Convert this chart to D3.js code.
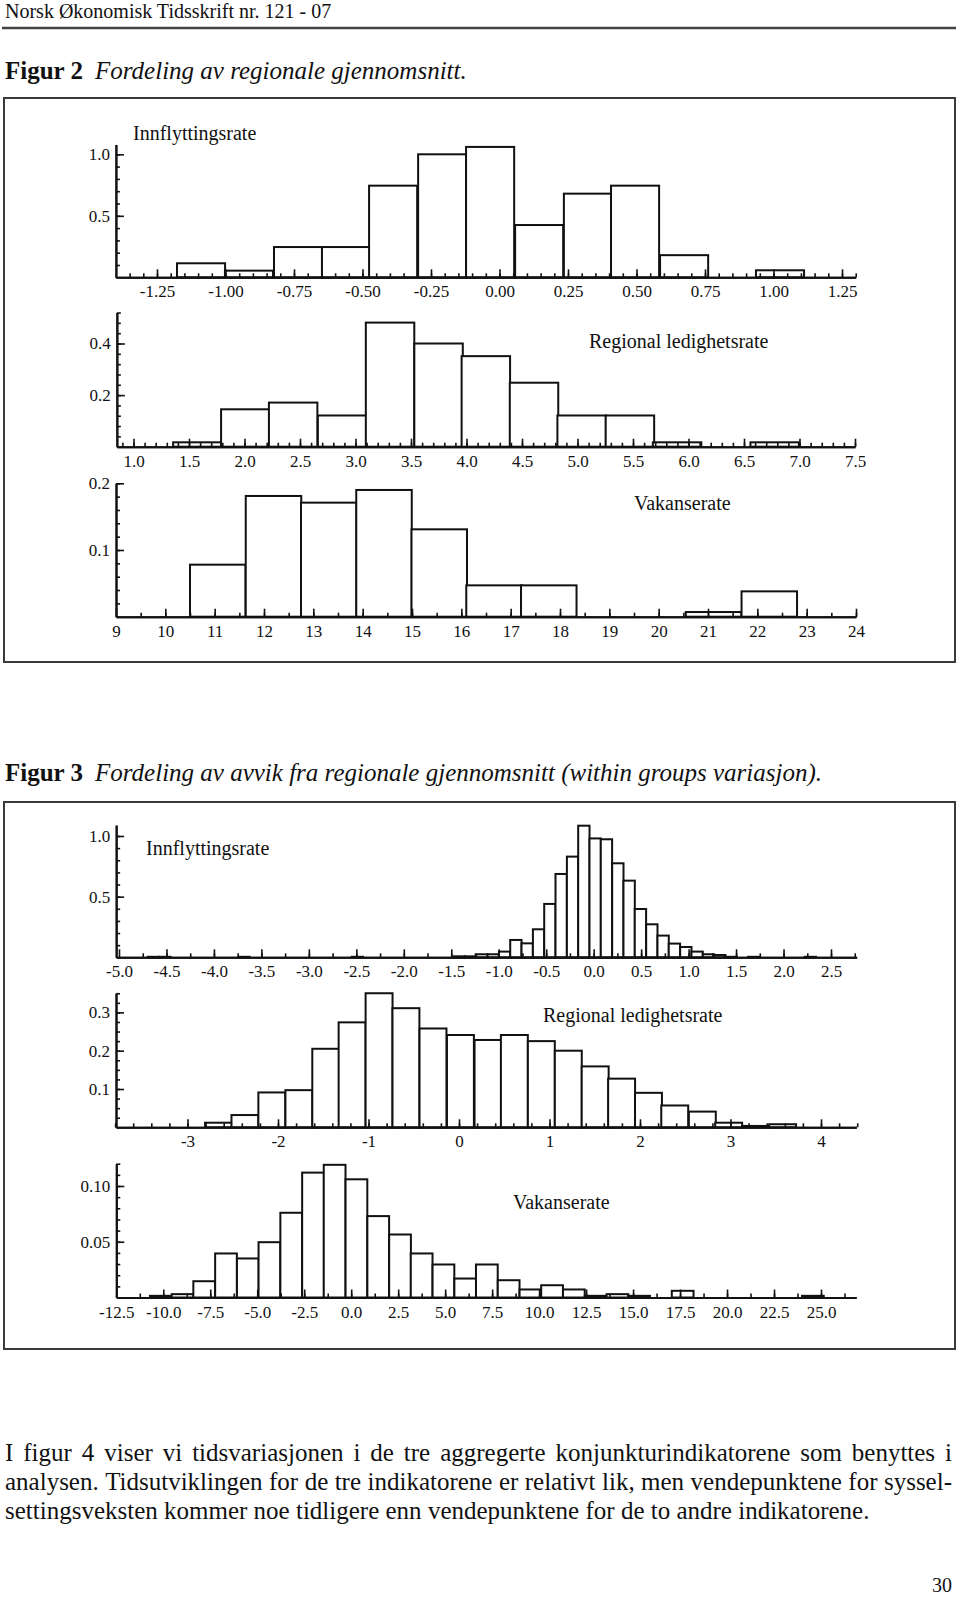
<!DOCTYPE html>
<html>
<head>
<meta charset="utf-8">
<script src="https://cdn.jsdelivr.net/npm/d3@7"></script>
<style>
  body { margin: 0; background: #fff; }
  svg text { font-family: "Liberation Serif", "Times New Roman", serif; fill: #111; }
</style>
</head>
<body>
<div id="page"></div>
<script>

  // Figur 2 - regional averages

  var innLo2 = [-1.177, -1.002, -0.823, -0.648, -0.476, -0.297, -0.122, 0.057, 0.235, 0.407, 0.586, 0.765, 0.936];
  var innFreq2 = [0.114, 0.054, 0.246, 0.246, 0.745, 1.0, 1.06, 0.425, 0.68, 0.745, 0.18, 0, 0.057];
  var innW2 = 0.1755;
  var innX2 = ["-1.25", "-1.00", "-0.75", "-0.50", "-0.25", "0.00", "0.25", "0.50", "0.75", "1.00", "1.25"];
  var innY2 = ["0.5", "1.0"];

  var ledLo2 = [1.357, 1.789, 2.220, 2.661, 3.093, 3.530, 3.956, 4.390, 4.819, 5.254, 5.679, 6.120, 6.558];
  var ledFreq2 = [0.017, 0.145, 0.171, 0.121, 0.481, 0.40, 0.351, 0.248, 0.121, 0.121, 0.017, 0, 0.017];
  var ledW2 = 0.4366;
  var ledX2 = ["1.0", "1.5", "2.0", "2.5", "3.0", "3.5", "4.0", "4.5", "5.0", "5.5", "6.0", "6.5", "7.0", "7.5"];
  var ledY2 = ["0.2", "0.4"];

  var vakLo2 = [10.50, 11.63, 12.75, 13.87, 14.99, 16.10, 17.21, 18.34, 19.45, 20.55, 21.68];
  var vakFreq2 = [0.078, 0.181, 0.171, 0.190, 0.131, 0.047, 0.047, 0, 0, 0.007, 0.038];
  var vakW2 = 1.125;
  var vakX2 = ["9", "10", "11", "12", "13", "14", "15", "16", "17", "18", "19", "20", "21", "22", "23", "24"];
  var vakY2 = ["0.1", "0.2"];

  // Figur 3 - deviations from regional averages

  var innLo3 = [-4.697, -4.577, -3.742, -2.549, -1.476, -1.357, -1.237, -1.118, -0.998, -0.879, -0.760, -0.640,
                -0.521, -0.402, -0.282, -0.163, -0.044, 0.075, 0.195, 0.314, 0.433, 0.553, 0.672, 0.791,
                0.911, 1.030, 1.149, 1.269, 1.388, 1.626, 2.223];
  var innFreq3 = [0.004, 0.004, 0.004, 0.004, 0.008, 0.008, 0.025, 0.025, 0.047, 0.143, 0.115, 0.231,
                  0.44, 0.687, 0.83, 1.085, 0.98, 0.973, 0.775, 0.632, 0.398, 0.272, 0.179, 0.113,
                  0.085, 0.047, 0.025, 0.019, 0.004, 0.004, 0.004];
  var innW3 = 0.1193;
  var innX3 = ["-5.0", "-4.5", "-4.0", "-3.5", "-3.0", "-2.5", "-2.0", "-1.5", "-1.0", "-0.5", "0.0", "0.5", "1.0", "1.5", "2.0", "2.5"];
  var innY3 = ["0.5", "1.0"];

  var ledLo3 = [-2.806, -2.514, -2.217, -1.918, -1.621, -1.330, -1.032, -0.735, -0.436, -0.133, 0.172,
                0.463, 0.761, 1.059, 1.356, 1.648, 1.945, 2.235, 2.540, 2.831, 3.129, 3.427];
  var ledFreq3 = [0.012, 0.032, 0.091, 0.097, 0.205, 0.274, 0.35, 0.311, 0.258, 0.241, 0.228,
                  0.241, 0.225, 0.2, 0.159, 0.127, 0.09, 0.057, 0.041, 0.012, 0.0035, 0.008];
  var ledW3 = 0.2975;
  var ledX3 = ["-3", "-2", "-1", "0", "1", "2", "3", "4"];
  var ledY3 = ["0.1", "0.2", "0.3"];

  var vakLo3 = [-10.71, -9.55, -8.40, -7.24, -6.08, -4.93, -3.77, -2.61, -1.46, -0.30, 0.86, 2.02, 3.17,
                4.33, 5.49, 6.64, 7.80, 8.96, 10.11, 11.27, 12.43, 13.59, 14.74, 17.06, 23.99];
  var vakFreq3 = [0.0015, 0.003, 0.0146, 0.0395, 0.035, 0.0496, 0.076, 0.112, 0.119, 0.106, 0.073, 0.0565, 0.0395,
                  0.0296, 0.017, 0.0296, 0.0155, 0.0072, 0.011, 0.0072, 0.0015, 0.003, 0.0015, 0.006, 0.0015];
  var vakW3 = 1.157;
  var vakX3 = ["-12.5", "-10.0", "-7.5", "-5.0", "-2.5", "0.0", "2.5", "5.0", "7.5", "10.0", "12.5", "15.0", "17.5", "20.0", "22.5", "25.0"];
  var vakY3 = ["0.05", "0.10"];

  var svg = d3.select("#page").append("svg")
      .attr("width", 960)
      .attr("height", 1597);

  // Page furniture

  svg.append("text").attr("x", 5).attr("y", 18).attr("font-size", 20)
      .text("Norsk Økonomisk Tidsskrift nr. 121 - 07");
  svg.append("line").attr("x1", 2).attr("x2", 956).attr("y1", 28).attr("y2", 28)
      .attr("stroke", "#444").attr("stroke-width", 2.5);

  function caption(y, num, rest) {
    var t = svg.append("text").attr("x", 5).attr("y", y).attr("font-size", 25);
    t.append("tspan").attr("font-weight", "bold").text("Figur " + num);
    t.append("tspan").attr("dx", 12).attr("font-style", "italic").text(rest);
  }
  caption(79, "2", "Fordeling av regionale gjennomsnitt.");
  caption(781, "3", "Fordeling av avvik fra regionale gjennomsnitt (within groups variasjon).");

  svg.append("rect").attr("x", 4).attr("y", 98).attr("width", 951).attr("height", 564)
      .attr("fill", "none").attr("stroke", "#3a3a3a").attr("stroke-width", 2);
  svg.append("rect").attr("x", 4).attr("y", 802).attr("width", 951).attr("height", 547)
      .attr("fill", "none").attr("stroke", "#3a3a3a").attr("stroke-width", 2);

  // Histogram panel

  function panel(c) {
    var x = d3.scaleLinear().domain(c.xRef).range(c.xPx);
    var y = d3.scaleLinear().domain([0, c.yRef]).range([c.base, c.yRefPx]);
    var g = svg.append("g");

    var bins = c.lo.map(function(d, i) { return {lo: d, f: c.freq[i]}; })
        .filter(function(d) { return d.f > 0; });

    g.selectAll(".bar")
        .data(bins)
        .enter().append("rect")
        .attr("class", "bar")
        .attr("x", function(d) { return x(d.lo); })
        .attr("width", function(d) { return x(d.lo + c.w) - x(d.lo); })
        .attr("y", function(d) { return y(d.f); })
        .attr("height", function(d) { return c.base - y(d.f); })
        .attr("fill", "#fff")
        .attr("stroke", "#111")
        .attr("stroke-width", 2);

    var xl = x.copy().domain(c.xLine).range(c.xLine.map(x));
    var yl = y.copy().domain([0, c.yTop]).range([c.base, y(c.yTop)]);

    var xMinor = d3.range(c.xMinor[0], c.xMinor[1] + 1e-9, c.xMinor[2]);
    var yMinor = d3.range(c.yMinor, c.yTop + 1e-9, c.yMinor);

    g.append("g")
        .attr("transform", `translate(0, ${c.base})`)
        .call(d3.axisBottom(xl).tickValues(xMinor).tickSize(-4).tickSizeOuter(0).tickFormat(""));
    g.append("g")
        .attr("transform", `translate(0, ${c.base})`)
        .call(d3.axisBottom(xl).tickValues(c.xLab.map(Number)).tickSize(-8).tickSizeOuter(0)
          .tickPadding(8).tickFormat(function(d, i) { return c.xLab[i]; }));

    g.append("g")
        .attr("transform", `translate(${xl.range()[0]}, 0)`)
        .call(d3.axisLeft(yl).tickValues(yMinor).tickSize(-4).tickSizeOuter(0).tickFormat(""));
    g.append("g")
        .attr("transform", `translate(${xl.range()[0]}, 0)`)
        .call(d3.axisLeft(yl).tickValues(c.yLab.map(Number)).tickSize(-8).tickSizeOuter(0)
          .tickPadding(6).tickFormat(function(d, i) { return c.yLab[i]; }));

    g.selectAll(".domain").attr("stroke", "#111").attr("stroke-width", 2);
    g.selectAll(".tick line").attr("stroke", "#111").attr("stroke-width", 1.6);
    g.selectAll(".tick text")
        .attr("font-size", 17)
        .attr("font-family", "Liberation Serif, serif")
        .attr("fill", "#111");

    g.append("text")
        .attr("x", c.labX)
        .attr("y", c.labY)
        .attr("font-size", 20)
        .text(c.label);
  }

  panel({lo: innLo2, freq: innFreq2, w: innW2, xRef: [-1.25, 1.25], xPx: [157, 842], xLine: [-1.40, 1.30],
         base: 277.3, yRef: 1.0, yRefPx: 154.3, yTop: 1.08, xMinor: [-1.35, 1.30, 0.05], yMinor: 0.1,
         xLab: innX2, yLab: innY2, label: "Innflyttingsrate", labX: 133, labY: 140});

  panel({lo: ledLo2, freq: ledFreq2, w: ledW2, xRef: [1.0, 7.5], xPx: [133.5, 855], xLine: [0.85, 7.5],
         base: 446.7, yRef: 0.4, yRefPx: 343.5, yTop: 0.52, xMinor: [0.9, 7.5, 0.1], yMinor: 0.04,
         xLab: ledX2, yLab: ledY2, label: "Regional ledighetsrate", labX: 589, labY: 348});

  panel({lo: vakLo2, freq: vakFreq2, w: vakW2, xRef: [9, 24], xPx: [116, 856], xLine: [9, 24],
         base: 616.7, yRef: 0.2, yRefPx: 483.3, yTop: 0.2, xMinor: [9.5, 24, 0.5], yMinor: 0.02,
         xLab: vakX2, yLab: vakY2, label: "Vakanserate", labX: 634, labY: 510});

  panel({lo: innLo3, freq: innFreq3, w: innW3, xRef: [-5, 2.5], xPx: [119, 831], xLine: [-5.03, 2.77],
         base: 957.3, yRef: 1.0, yRefPx: 836, yTop: 1.09, xMinor: [-4.75, 2.75, 0.25], yMinor: 0.1,
         xLab: innX3, yLab: innY3, label: "Innflyttingsrate", labX: 146, labY: 855});

  panel({lo: ledLo3, freq: ledFreq3, w: ledW3, xRef: [-3, 4], xPx: [187.5, 821], xLine: [-3.79, 4.39],
         base: 1127.3, yRef: 0.3, yRefPx: 1012.4, yTop: 0.35, xMinor: [-3.8, 4.4, 0.2], yMinor: 0.025,
         xLab: ledX3, yLab: ledY3, label: "Regional ledighetsrate", labX: 543, labY: 1022});

  panel({lo: vakLo3, freq: vakFreq3, w: vakW3, xRef: [-12.5, 25], xPx: [116.3, 821], xLine: [-12.5, 26.87],
         base: 1297.5, yRef: 0.1, yRefPx: 1186, yTop: 0.12, xMinor: [-11.25, 26.25, 1.25], yMinor: 0.01,
         xLab: vakX3, yLab: vakY3, label: "Vakanserate", labX: 513, labY: 1209});

  // Body text, justified

  var body = svg.append("g").attr("font-size", 25);

  function line(str, yb, justify) {
    var words = str.split(" ");
    var widths = words.map(function(w) {
      var n = body.append("text").text(w);
      var wd = n.node().getComputedTextLength();
      n.remove();
      return wd;
    });
    var space = justify ? (952 - 5 - d3.sum(widths)) / (words.length - 1) : 6.25;
    var cx = 5;
    words.forEach(function(w, i) {
      body.append("text").attr("x", cx).attr("y", yb).text(w);
      cx += widths[i] + space;
    });
  }

  line("I figur 4 viser vi tidsvariasjonen i de tre aggregerte konjunkturindikatorene som benyttes i", 1461, true);
  line("analysen. Tidsutviklingen for de tre indikatorene er relativt lik, men vendepunktene for syssel-", 1490, true);
  line("settingsveksten kommer noe tidligere enn vendepunktene for de to andre indikatorene.", 1519, false);

  svg.append("text").attr("x", 952).attr("y", 1592).attr("font-size", 20)
      .attr("text-anchor", "end").text("30");

</script>
</body>
</html>
